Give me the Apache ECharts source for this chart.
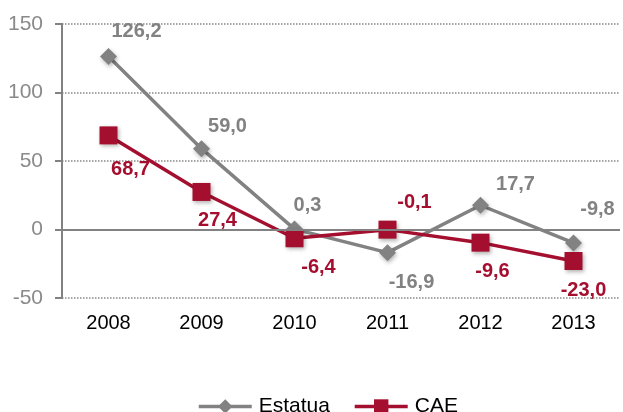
<!DOCTYPE html>
<html>
<head>
<meta charset="utf-8">
<script src="https://cdn.jsdelivr.net/npm/echarts@6/dist/echarts.min.js"></script>
<style>
html, body { margin: 0; padding: 0; background: #fff; }
#chart { width: 623px; height: 412px; }
</style>
</head>
<body>
<div id="chart"></div>
<script>
var years = ['2008', '2009', '2010', '2011', '2012', '2013']
var estatua = [126.2, 59.0, 0.3, -16.9, 17.7, -9.8]
var cae = [68.7, 27.4, -6.4, -0.1, -9.6, -23.0]
// label offsets relative to marker centre
var estatuaOff = [[28, -25], [26, -22], [13, -24], [24, 30], [35, -21], [24, -33]]
var caeOff = [[22, 34], [16, 29], [24, 29], [27, -27], [12, 29], [10, 29]]

var gray = '#828282'
var red = '#a50f2f'

function fmt(v) {
    return v.toFixed(1).replace('.', ',')
}

function build(vals, offs, color) {
    return vals.map(function (v, i) {
        return {
            value: v,
            label: {
                show: true,
                position: 'inside',
                offset: offs[i],
                formatter: fmt(v),
                color: color,
                fontWeight: 'bold',
                fontSize: 20,
                fontFamily: 'Liberation Sans'
            }
        }
    })
}

var chart = echarts.init(document.getElementById('chart'))
var option = {
    animation: false,
    grid: { left: 62, right: 3, top: 24, bottom: 114 },
    legend: {
        left: 192,
        top: 391,
        itemWidth: 53,
        itemHeight: 18,
        itemGap: 23,
        lineStyle: { width: 3.5 },
        textStyle: { fontSize: 21, color: '#000', fontFamily: 'Liberation Sans', padding: [0, 0, 0, 2] },
        data: ['Estatua', 'CAE']
    },
    xAxis: {
        type: 'category',
        data: years,
        axisLine: { show: false },
        axisTick: { show: false },
        axisLabel: { color: '#000', fontSize: 20, margin: 15, fontFamily: 'Liberation Sans' }
    },
    yAxis: {
        type: 'value',
        min: -50,
        max: 150,
        interval: 50,
        axisLine: { show: true, lineStyle: { color: gray, width: 2 } },
        axisTick: { show: true, length: 7, lineStyle: { color: gray, width: 2 } },
        axisLabel: { color: '#8a8a8a', fontSize: 21, margin: 19, fontFamily: 'Liberation Sans' },
        splitLine: { lineStyle: { color: '#888', type: 'dotted', width: 1.5 } }
    },
    series: [{
        name: 'Estatua',
        type: 'line',
        data: build(estatua, estatuaOff, gray),
        symbol: 'diamond',
        symbolSize: 17,
        lineStyle: { color: gray, width: 3.5 },
        itemStyle: { color: gray, shadowBlur: 4, shadowColor: 'rgba(0,0,0,0.3)', shadowOffsetX: 1, shadowOffsetY: 2 },
        markLine: {
            silent: true,
            symbol: 'none',
            label: { show: false },
            lineStyle: { color: gray, type: 'solid', width: 2 },
            data: [{ yAxis: 0 }]
        },
        z: 3
    }, {
        name: 'CAE',
        type: 'line',
        data: build(cae, caeOff, red),
        symbol: 'rect',
        symbolSize: 18,
        lineStyle: { color: red, width: 3.5 },
        itemStyle: { color: red, shadowBlur: 4, shadowColor: 'rgba(0,0,0,0.3)', shadowOffsetX: 1, shadowOffsetY: 2 },
        z: 4
    }]
}
chart.setOption(option)
</script>
</body>
</html>
